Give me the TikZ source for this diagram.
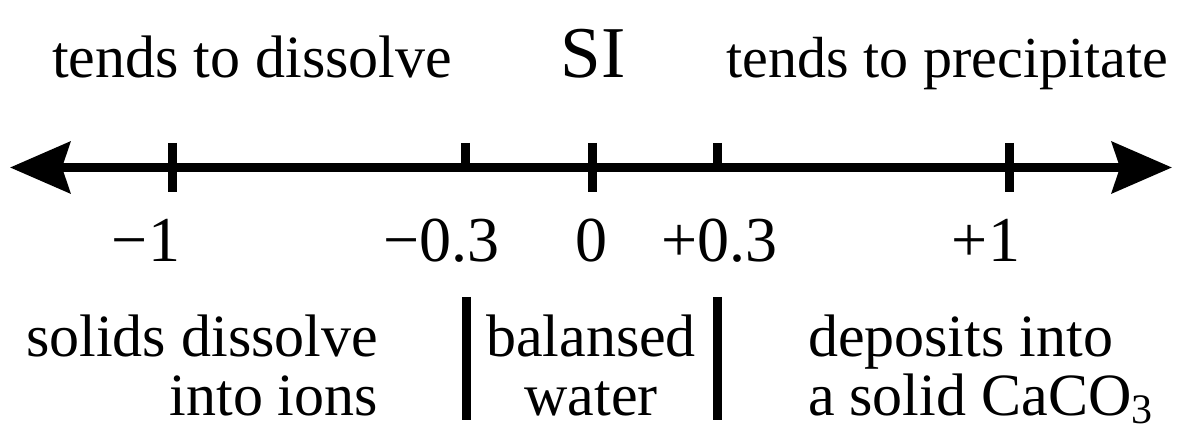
\documentclass[tikz,border=0pt]{standalone}
\usepackage{fontspec}
\setmainfont{Liberation Serif}
\usetikzlibrary{arrows.meta}
\newcommand{\mysubthree}{\raisebox{-8pt}{\fontsize{42}{42}\selectfont 3}}
\begin{document}
\begin{tikzpicture}[x=1pt,y=-1pt,
  every node/.style={inner sep=0pt,outer sep=0pt},
  txt/.style={font=\fontsize{60}{59}\selectfont},
  num/.style={font=\fontsize{64}{64}\selectfont,anchor=base},
  axisline/.style={line width=9pt,
    {Stealth[length=60pt,width=51pt,inset=8pt]}-{Stealth[length=60pt,width=51pt,inset=8pt]}},
  tickline/.style={line width=9pt},
  sepline/.style={line width=9pt}]
\useasboundingbox (0,0) rectangle (1200,446);
% axis
\coordinate (L) at (10,167.5);
\coordinate (R) at (1172,167.5);
\draw[axisline] (L) -- (R);
% ticks
\coordinate (tm1) at (172,167.5);
\coordinate (tm03) at (465.5,167.5);
\coordinate (t0) at (592,167.5);
\coordinate (tp03) at (717,167.5);
\coordinate (tp1) at (1009.5,167.5);
\draw[tickline] ([yshift=24.5pt]tm1) -- ([yshift=-24.5pt]tm1);
\draw[tickline] ([yshift=24.5pt]t0) -- ([yshift=-24.5pt]t0);
\draw[tickline] ([yshift=24.5pt]tp1) -- ([yshift=-24.5pt]tp1);
\draw[tickline] ([yshift=24.5pt]tm03) -- (tm03);
\draw[tickline] ([yshift=24.5pt]tp03) -- (tp03);
% top labels
\node[txt,anchor=base west] (diss) at (52,78) {tends to dissolve};
\node[font=\fontsize{73}{73}\selectfont,anchor=base] (si) at (593,78) {SI};
\node[txt,font=\fontsize{58}{58}\selectfont,anchor=base east] (prec) at (1168,78) {tends to precipitate};
% numbers
\node[num] (nm1) at (146,262) {−1};
\node[num] (nm03) at (441.5,262) {−0.3};
\node[num] (n0) at (591,262) {0};
\node[num] (np03) at (719.5,262) {+0.3};
\node[num] (np1) at (986,262) {+1};
% separators
\coordinate (s1a) at (466,297);
\coordinate (s1b) at (466,420);
\coordinate (s2a) at (717.5,297);
\coordinate (s2b) at (717.5,420);
\draw[sepline] (s1a) -- (s1b);
\draw[sepline] (s2a) -- (s2b);
% bottom labels (base anchor = last line)
\node[txt,align=right,anchor=base east] (ions) at (378,415) {solids dissolve\\into ions};
\node[txt,align=center,anchor=base] (bal) at (591,415) {balansed\\water};
\node[txt,align=left,anchor=base west] (dep) at (808,415) {deposits into\\a solid CaCO\mysubthree};
\end{tikzpicture}
\end{document}
